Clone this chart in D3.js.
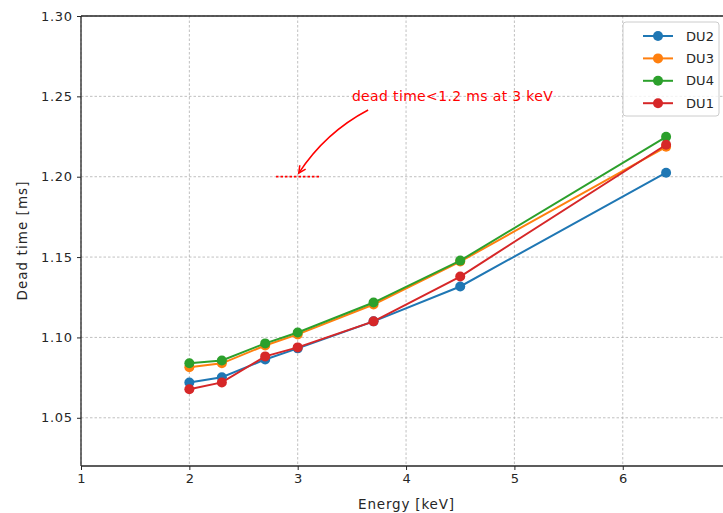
<!DOCTYPE html>
<html><head><meta charset="utf-8">
<script src="https://cdn.jsdelivr.net/npm/d3@7"></script>
<style>body{margin:0;background:#fff}svg{display:block;font-family:"DejaVu Sans",sans-serif}</style>
</head><body><svg id="c" width="723" height="513"></svg>
<script>
const energies = [2, 2.3, 2.7, 3, 3.7, 4.5, 6.4];
const seriesNames = ["DU2", "DU3", "DU4", "DU1"];
const du2 = [1.072, 1.0752, 1.0863, 1.0932, 1.110, 1.1317, 1.2025];
const du3 = [1.0814, 1.0839, 1.095, 1.1019, 1.1205, 1.1472, 1.2186];
const du4 = [1.0839, 1.0857, 1.0963, 1.1031, 1.1217, 1.1478, 1.2248];
const du1 = [1.0677, 1.072, 1.0882, 1.0938, 1.110, 1.1379, 1.2199];
const seriesColors = ["#1f77b4", "#ff7f0e", "#2ca02c", "#d62728"];
const xTicks = [1, 2, 3, 4, 5, 6];
const yTicks = [1.05, 1.10, 1.15, 1.20, 1.25, 1.30];
const annotationText = "dead time<1.2 ms at 3 keV";

const allSeries = [du2, du3, du4, du1];
const svg = d3.select("#c");
const L = 81, T = 16, B = 466;
const x = d3.scaleLinear().domain([1, 7]).range([L, L + 6 * 108.35]);
const y = d3.scaleLinear().domain([1.02, 1.30]).range([B, T]);
const R = x(7);
const ink = "#262626";

// grid
const grid = svg.append("g").attr("stroke", "#b0b0b0").attr("stroke-width", 0.8).attr("stroke-dasharray", "2.5,2");
xTicks.forEach(t => grid.append("line").attr("x1", x(t)).attr("x2", x(t)).attr("y1", T).attr("y2", B));
yTicks.forEach(t => grid.append("line").attr("x1", L).attr("x2", R).attr("y1", y(t)).attr("y2", y(t)));

// axes
const xAxis = d3.axisBottom(x).tickValues(xTicks).tickFormat(d3.format("d")).tickSize(4).tickPadding(4);
const yAxis = d3.axisLeft(y).tickValues(yTicks).tickFormat(d3.format(".2f")).tickSize(4).tickPadding(5);
const gx = svg.append("g").attr("transform", `translate(0,${B})`).call(xAxis);
const gy = svg.append("g").attr("transform", `translate(${L},0)`).call(yAxis);
[gx, gy].forEach(g => {
  g.select(".domain").remove();
  g.selectAll("text").attr("font-size", 13).attr("fill", ink).attr("font-family", "DejaVu Sans");
  g.selectAll("line").attr("stroke", ink).attr("stroke-width", 1);
});
gy.selectAll("text").attr("textLength", 31).attr("lengthAdjust", "spacing");
// spines
svg.append("line").attr("x1", L).attr("x2", L).attr("y1", T).attr("y2", B).attr("stroke", ink).attr("stroke-width", 1.3);
svg.append("line").attr("x1", L).attr("x2", R).attr("y1", B).attr("y2", B).attr("stroke", ink).attr("stroke-width", 1.3);
svg.append("line").attr("x1", L).attr("x2", R).attr("y1", T).attr("y2", T).attr("stroke", ink).attr("stroke-width", 1.3);

svg.append("text").attr("x", x(4)).attr("y", 509).attr("text-anchor", "middle").attr("font-size", 13.5).attr("fill", ink)
  .attr("textLength", 96).attr("lengthAdjust", "spacing").text("Energy [keV]");
svg.append("text").attr("transform", `translate(27,${(T + B) / 2}) rotate(-90)`).attr("text-anchor", "middle").attr("font-size", 13.5).attr("fill", ink)
  .attr("textLength", 119).attr("lengthAdjust", "spacing").text("Dead time [ms]");

// series
const line = d3.line().x((d, i) => x(energies[i])).y(d => y(d));
allSeries.forEach((s, k) => {
  const g = svg.append("g");
  g.append("path").attr("d", line(s)).attr("fill", "none").attr("stroke", seriesColors[k]).attr("stroke-width", 2);
  g.selectAll("circle").data(s).join("circle").attr("cx", (d, i) => x(energies[i])).attr("cy", d => y(d)).attr("r", 5).attr("fill", seriesColors[k]);
});

// annotation
const red = "#ff0000";
svg.append("line").attr("x1", x(2.8)).attr("x2", x(3.2)).attr("y1", y(1.2)).attr("y2", y(1.2)).attr("stroke", red).attr("stroke-width", 1.8).attr("stroke-dasharray", "2.5,2");
svg.append("text").attr("x", x(3.5)).attr("y", 101).attr("font-size", 14).attr("fill", red)
  .attr("textLength", 201).attr("lengthAdjust", "spacing").text(annotationText);
const p0 = [x(3.65), y(1.2415)], p1 = [x(3.01), y(1.2022)];
const mx = (p0[0] + p1[0]) / 2, my = (p0[1] + p1[1]) / 2;
const dx = p1[0] - p0[0], dy = p1[1] - p0[1];
const rad = 0.13;
const c = [mx - rad * dy, my + rad * dx];
svg.append("path").attr("d", `M${p0[0]},${p0[1]} Q${c[0]},${c[1]} ${p1[0]},${p1[1]}`).attr("fill", "none").attr("stroke", red).attr("stroke-width", 1.5);
// arrowhead
const ang = Math.atan2(p1[1] - c[1], p1[0] - c[0]);
const hl = 8, ha = 0.45;
const h1 = [p1[0] - hl * Math.cos(ang - ha), p1[1] - hl * Math.sin(ang - ha)];
const h2 = [p1[0] - hl * Math.cos(ang + ha), p1[1] - hl * Math.sin(ang + ha)];
svg.append("path").attr("d", `M${h1[0]},${h1[1]} L${p1[0]},${p1[1]} L${h2[0]},${h2[1]}`).attr("fill", "none").attr("stroke", red).attr("stroke-width", 1.5);

// legend
const lg = svg.append("g").attr("transform", "translate(623,22)");
lg.append("rect").attr("width", 96).attr("height", 94).attr("rx", 3).attr("fill", "#fff").attr("fill-opacity", 0.8).attr("stroke", "#cccccc");
seriesNames.forEach((n, i) => {
  const yy = 14 + i * 22.4;
  lg.append("line").attr("x1", 20).attr("x2", 50).attr("y1", yy).attr("y2", yy).attr("stroke", seriesColors[i]).attr("stroke-width", 2);
  lg.append("circle").attr("cx", 35).attr("cy", yy).attr("r", 5).attr("fill", seriesColors[i]);
  lg.append("text").attr("x", 63).attr("y", yy).attr("dy", "0.36em").attr("font-size", 13).attr("fill", ink)
    .attr("textLength", 28).attr("lengthAdjust", "spacing").text(n);
});
</script></body></html>
